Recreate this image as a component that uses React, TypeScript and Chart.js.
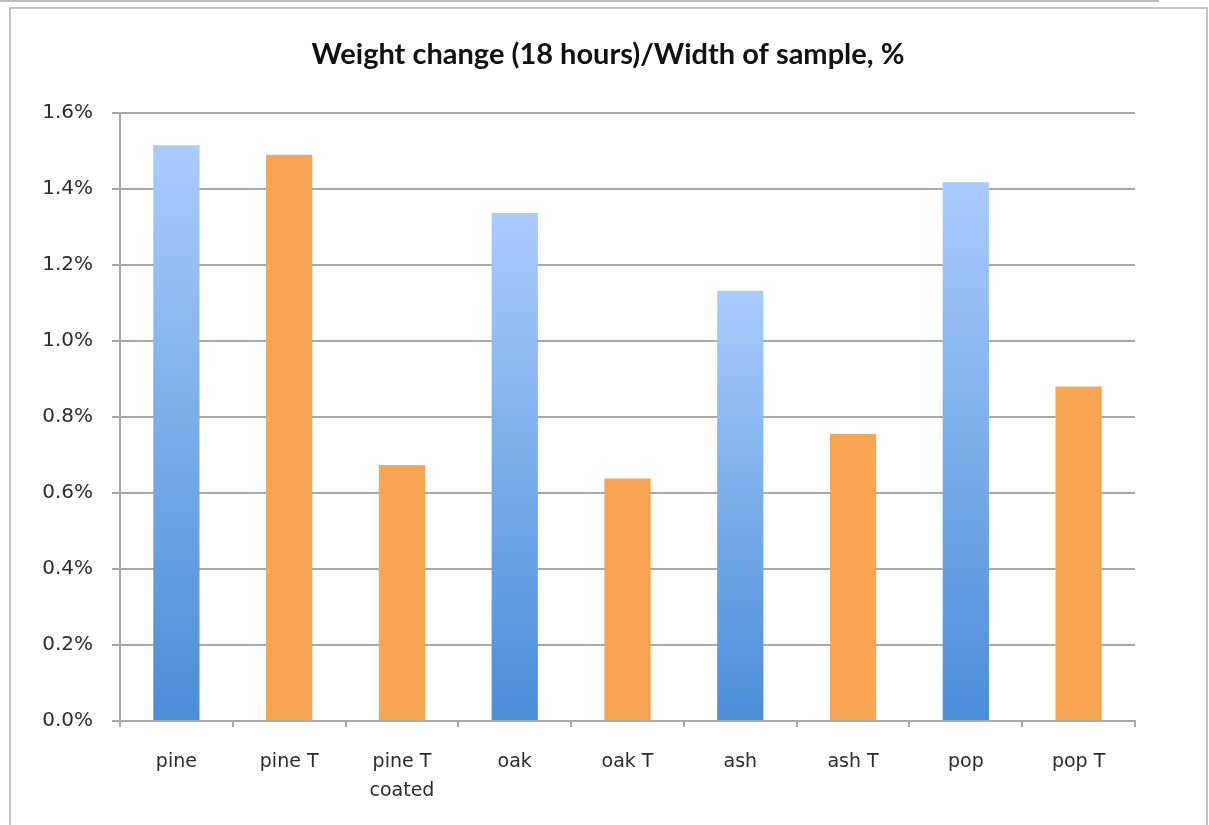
import React, { useEffect, useRef } from "react";
import { Chart, registerables } from "chart.js";

Chart.register(...registerables);

// Samples along the x axis (multi-line labels are arrays)
const categories: string[][] = [
  ["pine"],
  ["pine T"],
  ["pine T", "coated"],
  ["oak"],
  ["oak T"],
  ["ash"],
  ["ash T"],
  ["pop"],
  ["pop T"],
];

// Weight change after 18 hours divided by sample width, in percent
const weightChange: number[] = [1.515, 1.49, 0.674, 1.337, 0.638, 1.132, 0.755, 1.418, 0.88];

// Treated samples are drawn in orange, untreated in a blue gradient
const isTreated: boolean[] = [false, true, true, false, true, false, true, false, true];

const yMin = 0;
const yMax = 1.6;
const yStep = 0.2;

const chartTitle = "Weight change (18 hours)/Width of sample, %";

const ORANGE = "#f8a553";
const BLUE_LOW = "#4a8dd8";
const BLUE_HIGH = "#a9ccfc";
const AXIS_GREY = "#a9a9a9";
const TEXT_GREY = "#2c2c2c";

const CANVAS_W = 1216;
const CANVAS_H = 825;

export default function App() {
  const canvasRef = useRef<HTMLCanvasElement | null>(null);

  useEffect(() => {
    const canvas = canvasRef.current;
    if (!canvas) return;

    const chart = new Chart(canvas, {
      type: "bar",
      data: {
        labels: categories,
        datasets: [
          {
            data: weightChange,
            barPercentage: 0.41,
            categoryPercentage: 1,
            borderWidth: 0,
            backgroundColor: (ctx: any) => {
              const i = ctx.dataIndex;
              if (isTreated[i]) return ORANGE;
              const c = ctx.chart;
              const area = c.chartArea;
              const ys = c.scales?.y;
              if (!area || !ys) return BLUE_LOW;
              const top = ys.getPixelForValue(weightChange[i]);
              const g = c.ctx.createLinearGradient(0, area.bottom, 0, top);
              g.addColorStop(0, BLUE_LOW);
              g.addColorStop(1, BLUE_HIGH);
              return g;
            },
          },
        ],
      },
      options: {
        responsive: false,
        animation: false,
        devicePixelRatio: 1,
        layout: { padding: { left: 0, right: 0, top: 0, bottom: 0 } },
        plugins: {
          legend: { display: false },
          tooltip: { enabled: false },
          title: {
            display: true,
            text: chartTitle,
            color: "#111111",
            font: { family: "Lato", size: 29, weight: "bold", lineHeight: 1.2 },
            padding: { top: 37, bottom: 41.2 },
          },
        },
        scales: {
          x: {
            offset: true,
            grid: {
              display: true,
              offset: true,
              drawOnChartArea: false,
              drawTicks: true,
              tickLength: 6,
              color: AXIS_GREY,
              lineWidth: 2,
            },
            border: { display: true, color: AXIS_GREY, width: 2 },
            ticks: {
              color: TEXT_GREY,
              padding: 20,
              maxRotation: 0,
              autoSkip: false,
              font: { family: "DejaVu Sans", size: 19, lineHeight: 1.55 },
            },
            afterFit: (s: any) => {
              s.height = 104;
            },
          },
          y: {
            min: yMin,
            max: yMax,
            grid: {
              color: AXIS_GREY,
              lineWidth: 2,
              drawTicks: true,
              tickLength: 8,
            },
            border: { display: true, color: AXIS_GREY, width: 2 },
            ticks: {
              stepSize: yStep,
              color: TEXT_GREY,
              padding: 19,
              font: { family: "DejaVu Sans", size: 20 },
              callback: (v: any) => `${Number(v).toFixed(1)}%`,
            },
            afterFit: (s: any) => {
              s.width = 120;
            },
          },
          // Empty right-hand axis that reserves the margin on the right of the plot
          spacer: {
            type: "linear",
            position: "right",
            display: true,
            grid: { display: false, drawTicks: false },
            border: { display: false },
            ticks: { display: false },
            afterFit: (s: any) => {
              s.width = CANVAS_W - 1135;
            },
          },
        },
      },
    } as any);

    return () => chart.destroy();
  }, []);

  return (
    <div
      style={{
        position: "fixed",
        left: 0,
        top: 0,
        width: 1209,
        height: 825,
        overflow: "hidden",
        background: "#ffffff",
      }}
    >
      {/* bottom edge of the panel above */}
      <div
        style={{
          position: "absolute",
          left: -4,
          top: -30,
          width: 1163,
          height: 32,
          border: "2px solid #bdbdbd",
          boxSizing: "border-box",
        }}
      />
      {/* frame around the chart */}
      <div
        style={{
          position: "absolute",
          left: 9,
          top: 7,
          width: 1199,
          height: 840,
          border: "2px solid #c4c4c4",
          boxSizing: "border-box",
          background: "#ffffff",
        }}
      />
      <canvas
        ref={canvasRef}
        width={CANVAS_W}
        height={CANVAS_H}
        style={{ position: "absolute", left: 0, top: 0, width: CANVAS_W, height: CANVAS_H }}
      />
    </div>
  );
}
